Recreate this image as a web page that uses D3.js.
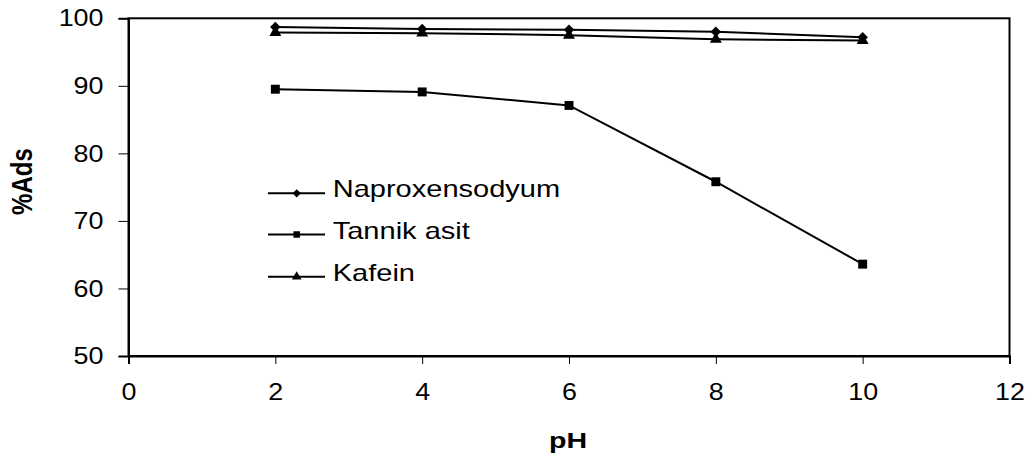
<!DOCTYPE html>
<html>
<head>
<meta charset="utf-8">
<script src="https://cdn.jsdelivr.net/npm/d3@7/dist/d3.min.js"></script>
<style>
  html, body { margin: 0; padding: 0; background: #fff; }
  svg { display: block; font-family: "Liberation Sans", Arial, sans-serif; }
</style>
</head>
<body>
<svg id="chart" width="1032" height="457"></svg>
<script>
// pH values and adsorption percentages for each substance
const phValues = [2, 4, 6, 8, 10];
const naproxen = [98.7, 98.4, 98.3, 98.0, 97.2];
const tannik   = [89.5, 89.1, 87.1, 75.8, 63.6];
const kafein   = [97.9, 97.8, 97.5, 96.9, 96.7];

const seriesNames = ["Naproxensodyum", "Tannik asit", "Kafein"];

const xTicks = [0, 2, 4, 6, 8, 10, 12];
const yTicks = [50, 60, 70, 80, 90, 100];

// square rotated by 45 degrees (equal width and height)
const symbolRhombus = {
  draw(ctx, size) {
    const r = Math.sqrt(size / 2);
    ctx.moveTo(0, -r); ctx.lineTo(r, 0); ctx.lineTo(0, r); ctx.lineTo(-r, 0); ctx.closePath();
  }
};
const seriesSymbols = [symbolRhombus, d3.symbolSquare, d3.symbolTriangle];
const seriesSizes = [55, 80, 62];
const legendSizes = [34, 42, 40];

const svg = d3.select("#chart");
const W = 1032, H = 457;
const margin = { left: 128.5, right: 22.5, top: 18.3, bottom: 101 };
const textStretch = 1.2;

const x = d3.scaleLinear().domain([0, 12]).range([margin.left, W - margin.right]);
const y = d3.scaleLinear().domain([50, 100]).range([H - margin.bottom, margin.top]);

// plot frame
svg.append("rect")
  .attr("x", x(0)).attr("y", y(100))
  .attr("width", x(12) - x(0)).attr("height", y(50) - y(100))
  .attr("fill", "none").attr("stroke", "#000").attr("stroke-width", 2);

// axes
const xAxis = svg.append("g")
  .attr("transform", `translate(0,${y(50)})`)
  .call(d3.axisBottom(x).tickValues(xTicks).tickSize(8).tickPadding(19).tickFormat(d3.format("d")));
const yAxis = svg.append("g")
  .attr("transform", `translate(${x(0)},0)`)
  .call(d3.axisLeft(y).tickValues(yTicks).tickSize(10).tickPadding(15).tickFormat(d3.format("d")));

[xAxis, yAxis].forEach(g => {
  g.select(".domain").attr("stroke", "#000").attr("stroke-width", 2);
  g.selectAll(".tick line").attr("stroke", "#000").attr("stroke-width", 1);
  g.selectAll(".tick text")
    .attr("fill", "#000")
    .style("font-family", '"Liberation Sans", Arial, sans-serif')
    .style("font-size", "24px");
});
const tickStretch = 1.12;
xAxis.selectAll(".tick text").attr("transform", `scale(${tickStretch},1)`);
yAxis.selectAll(".tick text")
  .attr("x", -25 / tickStretch)
  .attr("transform", `scale(${tickStretch},1)`);

// axis titles
svg.append("text")
  .attr("transform", `translate(${(x(0) + x(12)) / 2 - 1},447.5) scale(1.3,1)`)
  .attr("text-anchor", "middle")
  .style("font-size", "22px").style("font-weight", "bold")
  .text("pH");

svg.append("text")
  .attr("transform", `translate(32,181.6) scale(${textStretch},1) rotate(-90)`)
  .attr("text-anchor", "middle")
  .style("font-size", "24px").style("font-weight", "bold")
  .text("%Ads");

// series
const allSeries = [naproxen, tannik, kafein];
const line = d3.line().x((d, i) => x(phValues[i])).y(d => y(d));

allSeries.forEach((vals, s) => {
  svg.append("path")
    .datum(vals)
    .attr("d", line)
    .attr("fill", "none")
    .attr("stroke", "#000")
    .attr("stroke-width", 2);

  svg.append("g").selectAll("path")
    .data(vals)
    .join("path")
    .attr("transform", (d, i) => `translate(${x(phValues[i])},${y(d)})`)
    .attr("d", d3.symbol().type(seriesSymbols[s]).size(seriesSizes[s]))
    .attr("fill", "#000");
});

// legend
const legendY = [193.3, 234.5, 276.7];
const leg = svg.append("g");
seriesNames.forEach((name, s) => {
  const ly = legendY[s];
  leg.append("line")
    .attr("x1", 268).attr("x2", 325)
    .attr("y1", ly).attr("y2", ly)
    .attr("stroke", "#000").attr("stroke-width", 2);
  leg.append("path")
    .attr("transform", `translate(296.7,${ly})`)
    .attr("d", d3.symbol().type(seriesSymbols[s]).size(legendSizes[s]))
    .attr("fill", "#000");
  leg.append("text")
    .attr("transform", `translate(332.7,${ly + 4}) scale(1.21,1)`)
    .style("font-size", "24px")
    .text(name);
});
</script>
</body>
</html>
